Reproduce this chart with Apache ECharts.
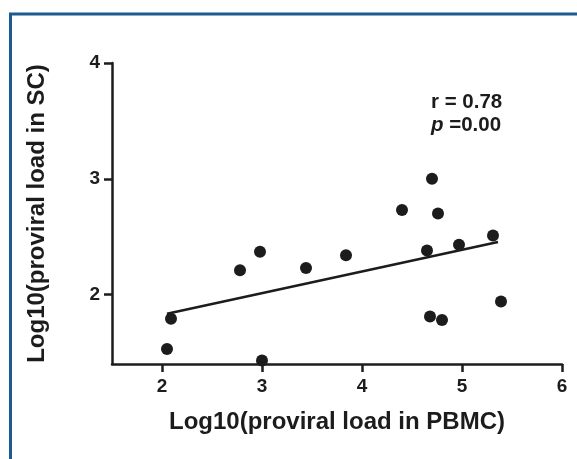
<!DOCTYPE html>
<html>
<head>
<meta charset="utf-8">
<script src="https://cdn.jsdelivr.net/npm/echarts@6/dist/echarts.min.js"></script>
<style>
html,body{margin:0;padding:0;background:#fff;}
#chart{width:577px;height:459px;}
</style>
</head>
<body>
<div id="chart"></div>
<script>
// Data
var pbmcLoad = [2.05, 2.09, 2.78, 2.98, 3.00, 3.44, 3.84, 4.40, 4.65, 4.70, 4.76, 4.68, 4.80, 4.97, 5.31, 5.39];
var scLoad   = [1.53, 1.79, 2.21, 2.37, 1.43, 2.23, 2.34, 2.73, 2.38, 3.00, 2.70, 1.81, 1.78, 2.43, 2.51, 1.94];
var fitLineX = [2.05, 5.36];
var fitLineY = [1.834, 2.453];
var xTicks = [2, 3, 4, 5, 6];
var yTicks = [2, 3, 4];
var xTitle = 'Log10(proviral load in PBMC)';
var yTitle = 'Log10(proviral load in SC)';
var statR = 'r = 0.78';
var statP = '=0.00';

var points = pbmcLoad.map(function (x, i) { return [x, scLoad[i]]; });
var fit = fitLineX.map(function (x, i) { return [x, fitLineY[i]]; });

var ink = '#1c1c1c';
var font = '"Liberation Sans", Arial, Helvetica, sans-serif';

var chart = echarts.init(document.getElementById('chart'), null, {renderer: 'canvas'});
chart.setOption({
  animation: false,
  backgroundColor: '#ffffff',
  grid: {left: 112, right: 15, top: 63, bottom: 95},
  xAxis: {
    type: 'value', min: 1.5, max: 6,
    name: xTitle, nameLocation: 'middle', nameGap: 46,
    nameTextStyle: {fontFamily: font, fontWeight: 'bold', fontSize: 24, color: ink},
    splitLine: {show: false},
    axisLine: {show: true, onZero: false, lineStyle: {color: ink, width: 2.5}},
    axisTick: {show: true, length: 8, lineStyle: {color: ink, width: 2.5}, customValues: xTicks},
    axisLabel: {margin: 13, fontFamily: font, fontWeight: 'bold', fontSize: 19, color: ink, customValues: xTicks}
  },
  yAxis: {
    type: 'value', min: 1.4, max: 4,
    name: yTitle, nameLocation: 'middle', nameGap: 63, nameRotate: 90,
    nameTextStyle: {fontFamily: font, fontWeight: 'bold', fontSize: 24, color: ink},
    splitLine: {show: false},
    axisLine: {show: true, onZero: false, lineStyle: {color: ink, width: 2.5}},
    axisTick: {show: true, length: 8, lineStyle: {color: ink, width: 2.5}, customValues: yTicks},
    axisLabel: {margin: 12, fontFamily: font, fontWeight: 'bold', fontSize: 19, color: ink, customValues: yTicks}
  },
  series: [
    {
      type: 'line', data: fit, symbol: 'none', silent: true,
      lineStyle: {color: ink, width: 2.5}, z: 2
    },
    {
      type: 'scatter', data: points, symbol: 'circle', symbolSize: 12,
      itemStyle: {color: ink, opacity: 1}, z: 3
    }
  ],
  graphic: [
    {
      type: 'rect', silent: true, z: 100,
      shape: {x: 10.5, y: 14, width: 700, height: 600},
      style: {fill: 'none', stroke: '#1d5a8e', lineWidth: 3}
    },
    {
      type: 'text', left: 431, top: 92, z: 100,
      style: {text: statR, fontFamily: font, fontWeight: 'bold', fontSize: 20.5, fill: ink}
    },
    {
      type: 'text', left: 431, top: 115, z: 100,
      style: {
        text: '{i|p} ' + statP,
        fontFamily: font, fontWeight: 'bold', fontSize: 20.5, fill: ink,
        rich: {i: {fontStyle: 'italic', fontFamily: font, fontWeight: 'bold', fontSize: 20.5, fill: ink}}
      }
    }
  ]
});
</script>
</body>
</html>
